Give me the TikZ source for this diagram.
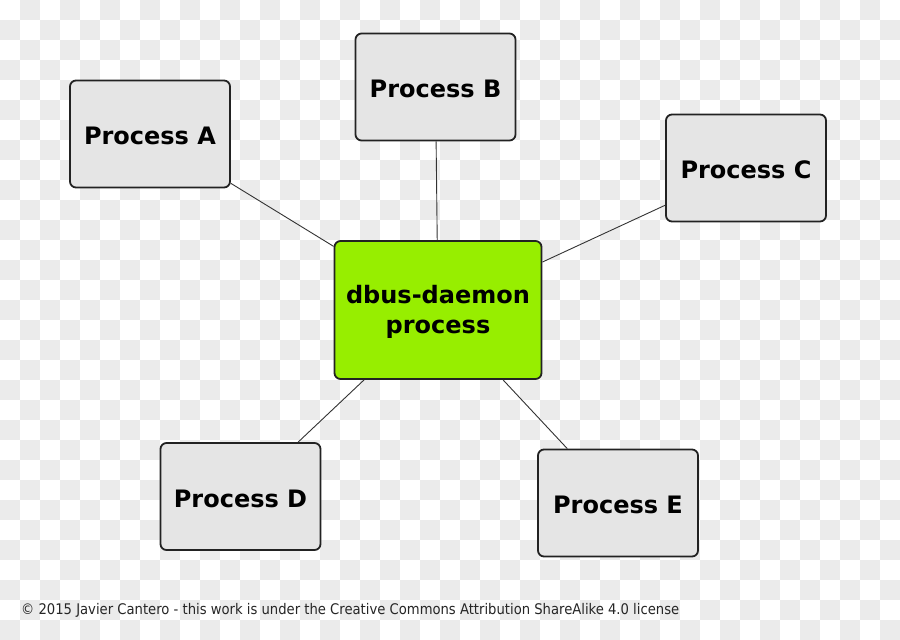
\documentclass[tikz,border=0pt]{standalone}
\usepackage{fontspec}
\setmainfont{DejaVu Sans}
\newfontfamily\condfont{DejaVu Sans Condensed}
\definecolor{checkgray}{HTML}{EBEBEB}
\definecolor{boxgray}{HTML}{E5E5E5}
\definecolor{daemongreen}{HTML}{97EE00}
\definecolor{edgegray}{HTML}{222222}
\definecolor{linkgray}{HTML}{333333}
\tikzset{
  procbox/.style={draw=edgegray, line width=1.8pt, fill=boxgray, rounded corners=6pt,
    minimum width=160pt, minimum height=107pt, inner sep=0pt, text height=21.5pt, text depth=0pt,
    font=\bfseries\fontsize{24}{30}\selectfont, text=black},
  daemonbox/.style={draw=edgegray, line width=1.8pt, fill=daemongreen, rounded corners=6pt,
    minimum width=207pt, minimum height=138pt, inner sep=0pt, align=center,
    font=\bfseries\fontsize{24}{30}\selectfont, text=black},
  link/.style={draw=linkgray, line width=0.9pt},
  footer/.style={font=\condfont\fontsize{14.65}{17}\selectfont, text=black!85, inner sep=0pt, anchor=base west}
}
\begin{document}
\begin{tikzpicture}[x=1pt,y=-1pt]
\useasboundingbox (0,0) rectangle (900,640);
\fill[white] (0,0) rectangle (900,640);
\foreach \i in {0,...,44}{
  \pgfmathtruncatemacro\off{20*mod(\i+1,2)}
  \foreach \k in {0,...,15}{
    \fill[checkgray] (20*\i,\off+40*\k) rectangle ++(20,20);
  }
}
\node[daemonbox] (dbus) at (438,310) {\rule{0pt}{22.5pt}dbus-daemon\\process};
\node[procbox] (A) at (150,134) {Process A};
\node[procbox] (B) at (435.5,87) {Process B};
\node[procbox] (C) at (746,168) {Process C};
\node[procbox] (D) at (240.5,496.5) {Process D};
\node[procbox] (E) at (618,503) {Process E};
\draw[link] (A) -- (dbus);
\draw[link] (B) -- (dbus);
\draw[link] (C) -- (dbus);
\draw[link] (D) -- (dbus);
\draw[link] (E) -- (dbus);
\node[footer] (credit) at (21,614) {© 2015 Javier Cantero - this work is under the Creative Commons Attribution ShareAlike 4.0 license};
\end{tikzpicture}
\end{document}
